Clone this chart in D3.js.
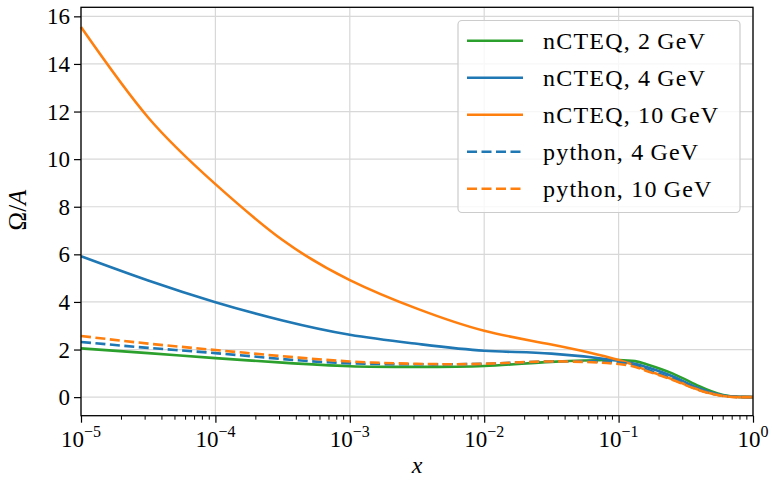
<!DOCTYPE html>
<html>
<head>
<meta charset="utf-8">
<script src="https://cdn.jsdelivr.net/npm/d3@7"></script>
<style>
  body { margin: 0; background: #fff; }
  svg { display: block; font-family: "Liberation Serif", serif; }
</style>
</head>
<body>
<svg width="774" height="478"></svg>
<script>
// x sample points (Bjorken x), log-spaced
var xs = [1e-5, 3.16e-5, 1e-4, 3.16e-4, 1e-3, 3.16e-3, 1e-2, 3.16e-2, 0.1, 0.158, 0.251, 0.398, 0.6, 0.79, 1.0];

var nc2  = [2.05, 1.85, 1.64, 1.45, 1.30, 1.27, 1.31, 1.48, 1.56, 1.40, 1.00, 0.46, 0.09, 0.01, 0.0];
var nc4  = [5.92, 4.90, 3.99, 3.22, 2.62, 2.24, 1.95, 1.83, 1.53, 1.28, 0.88, 0.36, 0.07, 0.01, 0.0];
var nc10 = [15.55, 11.75, 8.95, 6.60, 4.92, 3.72, 2.79, 2.21, 1.56, 1.15, 0.75, 0.30, 0.05, 0.0, 0.0];
var py4  = [2.32, 2.07, 1.85, 1.60, 1.42, 1.38, 1.40, 1.50, 1.45, 1.18, 0.78, 0.31, 0.06, 0.01, 0.0];
var py10 = [2.57, 2.25, 1.98, 1.72, 1.50, 1.40, 1.40, 1.50, 1.39, 1.12, 0.73, 0.29, 0.05, 0.0, 0.0];

var seriesNames = ["nCTEQ, 2\u2009GeV", "nCTEQ, 4\u2009GeV", "nCTEQ, 10\u2009GeV", "python, 4\u2009GeV", "python, 10\u2009GeV"];
var seriesValues = [nc2, nc4, nc10, py4, py10];
var seriesColors = ["#2ca02c", "#1f77b4", "#ff7f0e", "#1f77b4", "#ff7f0e"];
var seriesDashed = [false, false, false, true, true];

var xTicks = [1e-5, 1e-4, 1e-3, 1e-2, 1e-1, 1];
var yTicks = [0, 2, 4, 6, 8, 10, 12, 14, 16];

function main() {
  var svg = d3.select("svg");
  var left = 81, right = 753, top = 7.3, bottom = 415.7;

  var x = d3.scaleLog().domain([1e-5, 1]).range([left, right]);
  var y = d3.scaleLinear().domain([-0.78, 16.38]).range([bottom, top]);

  // title, cut off by the top edge
  svg.append("text")
    .attr("x", (left + right) / 2)
    .attr("y", -5)
    .attr("text-anchor", "middle")
    .attr("font-size", "24px")
    .text("Dynamical shadowing ratio, nuclear PDF (lead 208)");

  // grid
  var grid = svg.append("g");
  grid.selectAll(".gx").data(xTicks).enter().append("line")
    .attr("x1", function(d) { return x(d); }).attr("x2", function(d) { return x(d); })
    .attr("y1", top).attr("y2", bottom)
    .attr("stroke", "#d8d8d8").attr("stroke-width", 1.2);
  grid.selectAll(".gy").data(yTicks).enter().append("line")
    .attr("x1", left).attr("x2", right)
    .attr("y1", function(d) { return y(d); }).attr("y2", function(d) { return y(d); })
    .attr("stroke", "#d8d8d8").attr("stroke-width", 1.2);

  // curves
  var line = d3.line()
    .x(function(d) { return x(d[0]); })
    .y(function(d) { return y(d[1]); })
    .curve(d3.curveNatural);

  var plot = svg.append("g");
  seriesValues.forEach(function(vals, i) {
    plot.append("path")
      .datum(xs.map(function(v, j) { return [v, vals[j]]; }))
      .attr("fill", "none")
      .attr("stroke", seriesColors[i])
      .attr("stroke-width", 2.6)
      .attr("stroke-dasharray", seriesDashed[i] ? "10,4.5" : null)
      .attr("d", line);
  });

  // axes
  var xAxis = d3.axisBottom(x).tickValues(xTicks).tickSize(7).tickFormat("");
  var gx = svg.append("g").attr("transform", "translate(0," + bottom + ")").call(xAxis);
  // minor ticks
  var minors = [];
  for (var e = -5; e < 0; e++) for (var m = 2; m <= 9; m++) minors.push(m * Math.pow(10, e));
  gx.selectAll(".minor").data(minors).enter().append("line")
    .attr("x1", function(d) { return x(d); }).attr("x2", function(d) { return x(d); })
    .attr("y1", 0).attr("y2", 4)
    .attr("stroke", "#000").attr("stroke-width", 1);

  var yAxis = d3.axisLeft(y).tickValues(yTicks).tickSize(7).tickPadding(4);
  var gy = svg.append("g").attr("transform", "translate(" + left + ",0)").call(yAxis);
  gy.selectAll("text").attr("font-size", "23px").attr("font-family", "Liberation Serif, serif").attr("dy", "0.33em");

  [gx, gy].forEach(function(g) {
    g.select(".domain").remove();
    g.selectAll(".tick line").attr("stroke-width", 1.2);
  });

  // frame
  svg.append("rect")
    .attr("x", left).attr("y", top)
    .attr("width", right - left).attr("height", bottom - top)
    .attr("fill", "none").attr("stroke", "#000").attr("stroke-width", 1.3);

  // x tick labels as 10^n
  xTicks.forEach(function(t) {
    var p = Math.round(Math.log10(t));
    var lbl = svg.append("text")
      .attr("x", x(t)).attr("y", 447)
      .attr("text-anchor", "middle")
      .attr("font-size", "23px");
    lbl.append("tspan").text("10");
    lbl.append("tspan").attr("dy", -10).attr("font-size", "16px")
      .text(p === 0 ? "0" : "\u2212" + Math.abs(p));
  });

  // axis labels
  svg.append("text")
    .attr("x", (left + right) / 2).attr("y", 473)
    .attr("text-anchor", "middle").attr("font-size", "24px").attr("font-style", "italic")
    .text("x");
  var yl = svg.append("text")
    .attr("transform", "translate(26,210) rotate(-90)")
    .attr("text-anchor", "middle").attr("font-size", "25px");
  yl.append("tspan").text("\u03a9/");
  yl.append("tspan").attr("font-style", "italic").text("A");

  // legend
  var leg = svg.append("g");
  leg.append("rect")
    .attr("x", 458).attr("y", 20.5).attr("width", 282).attr("height", 192)
    .attr("rx", 4).attr("fill", "#fff").attr("fill-opacity", 0.8)
    .attr("stroke", "#cccccc").attr("stroke-width", 1.2);
  seriesNames.forEach(function(name, i) {
    var cy = 40.7 + i * 37;
    leg.append("line")
      .attr("x1", 467).attr("x2", 523).attr("y1", cy).attr("y2", cy)
      .attr("stroke", seriesColors[i]).attr("stroke-width", 2.6)
      .attr("stroke-dasharray", seriesDashed[i] ? "10,4.5" : null);
    leg.append("text")
      .attr("x", 543).attr("y", cy + 8)
      .attr("font-size", "24px")
      .attr("letter-spacing", "1.2px")
      .text(name);
  });
}
main();
</script>
</body>
</html>
